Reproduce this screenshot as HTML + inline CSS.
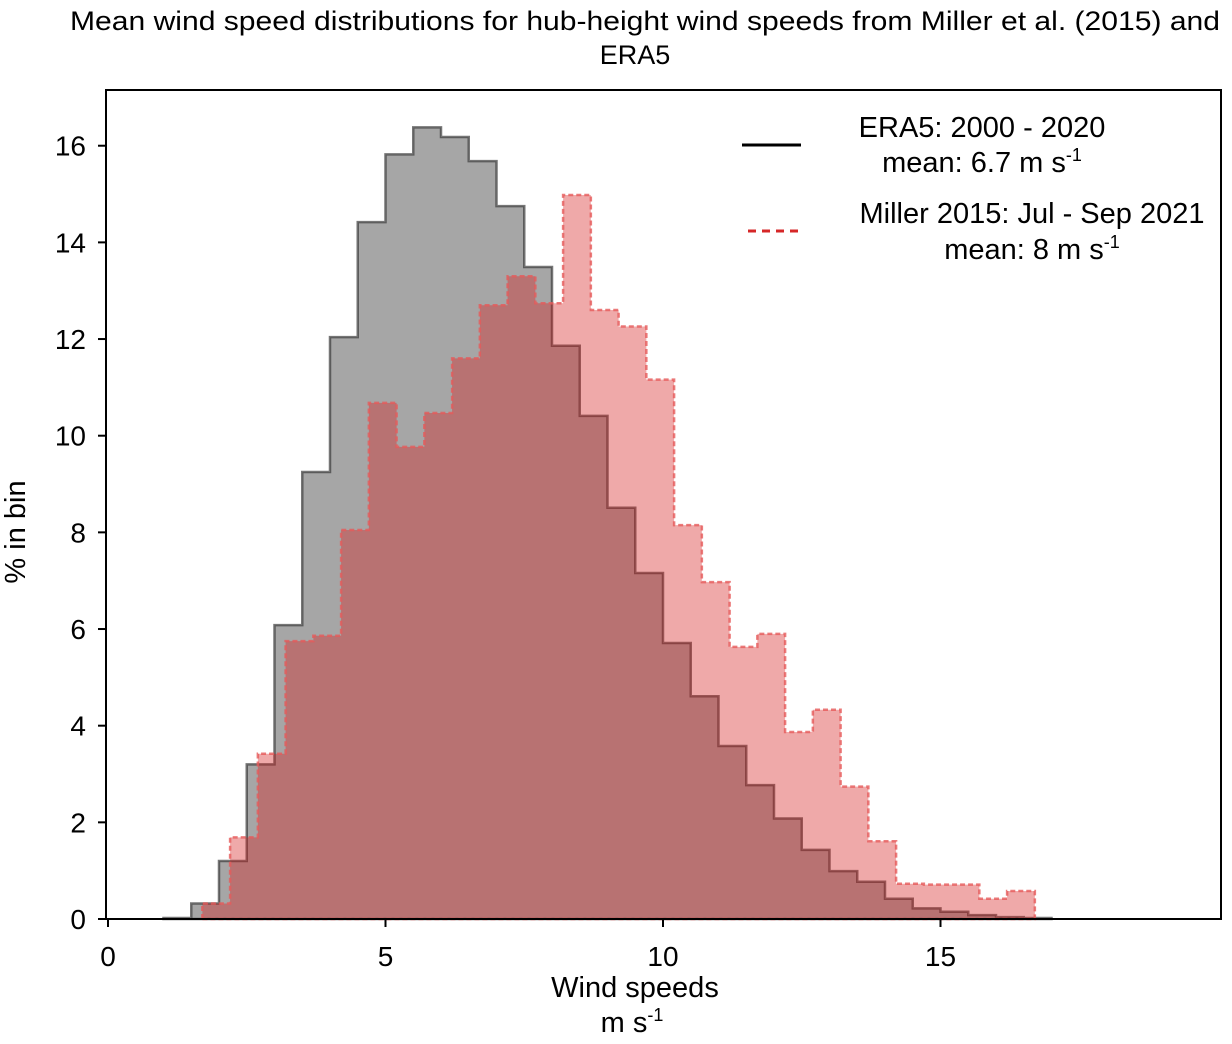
<!DOCTYPE html>
<html><head><meta charset="utf-8"><style>
body{margin:0;background:#fff;}
svg text{font-family:"Liberation Sans",sans-serif;fill:#000;}
</style></head><body>
<svg id="chart" width="1232" height="1039" viewBox="0 0 1232 1039" xmlns="http://www.w3.org/2000/svg">
<text x="70" y="30" font-size="27" textLength="1150" lengthAdjust="spacingAndGlyphs">Mean wind speed distributions for hub-height wind speeds from Miller et al. (2015)  and</text>
<text x="635" y="64" font-size="27" text-anchor="middle">ERA5</text>
<g id="marks"></g>
<rect x="106" y="90" width="1115" height="829" fill="none" stroke="#000" stroke-width="2"/>
<g id="axes"></g>
<text transform="translate(25,532) rotate(-90)" font-size="29" text-anchor="middle">% in bin</text>
<text x="635" y="997" font-size="29" text-anchor="middle">Wind speeds</text>
<text x="632" y="1032" font-size="29" text-anchor="middle">m s<tspan font-size="18" dy="-11">-1</tspan></text>
<g>
<line x1="742" y1="145" x2="801" y2="145" stroke="#000" stroke-width="3"/>
<text x="982" y="137" font-size="29" text-anchor="middle">ERA5: 2000 - 2020</text>
<text x="982" y="172" font-size="29" text-anchor="middle">mean: 6.7 m s<tspan font-size="18" dy="-11">-1</tspan></text>
<line x1="748" y1="231" x2="804" y2="231" stroke="#d62728" stroke-width="3" stroke-dasharray="8,6"/>
<text x="1032" y="223" font-size="29" text-anchor="middle">Miller 2015: Jul - Sep 2021</text>
<text x="1032" y="259" font-size="29" text-anchor="middle">mean: 8 m s<tspan font-size="18" dy="-11">-1</tspan></text>
</g>
</svg>
<script>
const era5Start = 1.0;
const binWidth = 0.5;
const era5Values = [0.02,0.32,1.2,3.2,6.08,9.25,12.04,14.42,15.82,16.38,16.18,15.68,14.75,13.49,11.86,10.41,8.51,7.16,5.71,4.61,3.58,2.77,2.08,1.43,0.99,0.77,0.42,0.22,0.15,0.08,0.04,0.02];
const millerStart = 1.7;
const millerValues = [0.32,1.69,3.42,5.75,5.86,8.05,10.68,9.77,10.47,11.6,12.7,13.3,12.74,14.98,12.6,12.26,11.16,8.15,6.97,5.63,5.9,3.87,4.33,2.74,1.61,0.73,0.71,0.71,0.42,0.58];
const xTicks = [0,5,10,15];
const yTicks = [0,2,4,6,8,10,12,14,16];

const NS="http://www.w3.org/2000/svg";
function xs(v){return 108+55.5*v;}
function ys(v){return 919-48.33*v;}
function stepPath(start,vals){
  let d="M"+xs(start)+","+ys(0);
  vals.forEach((v,i)=>{
    const x0=xs(start+i*binWidth), x1=xs(start+(i+1)*binWidth);
    d+=" L"+x0+","+ys(v)+" L"+x1+","+ys(v);
  });
  d+=" L"+xs(start+vals.length*binWidth)+","+ys(0);
  return d;
}
const marks=document.getElementById('marks');
const p1=document.createElementNS(NS,'path');
p1.setAttribute('d',stepPath(era5Start,era5Values)+" Z");
p1.setAttribute('fill','rgba(0,0,0,0.35)');
p1.setAttribute('stroke','rgba(60,60,60,0.7)');
p1.setAttribute('stroke-width','2.5');


marks.appendChild(p1);
const p2=document.createElementNS(NS,'path');
p2.setAttribute('d',stepPath(millerStart,millerValues)+" Z");
p2.setAttribute('fill','rgba(214,30,30,0.38)');
p2.setAttribute('stroke','rgba(230,90,90,0.8)');
p2.setAttribute('stroke-width','2.5');
p2.setAttribute('stroke-dasharray','5,3');


marks.appendChild(p2);

const axes=document.getElementById('axes');
xTicks.forEach(t=>{
  const l=document.createElementNS(NS,'line');
  l.setAttribute('x1',xs(t));l.setAttribute('x2',xs(t));
  l.setAttribute('y1',919);l.setAttribute('y2',927);
  l.setAttribute('stroke','#000');l.setAttribute('stroke-width','2');
  
  
  axes.appendChild(l);
  const tx=document.createElementNS(NS,'text');
  tx.setAttribute('x',xs(t));tx.setAttribute('y',966);
  tx.setAttribute('font-size','28');tx.setAttribute('text-anchor','middle');
  tx.textContent=t;
  
  
  axes.appendChild(tx);
});
yTicks.forEach(t=>{
  const l=document.createElementNS(NS,'line');
  l.setAttribute('x1',98);l.setAttribute('x2',106);
  l.setAttribute('y1',ys(t));l.setAttribute('y2',ys(t));
  l.setAttribute('stroke','#000');l.setAttribute('stroke-width','2');
  
  
  axes.appendChild(l);
  const tx=document.createElementNS(NS,'text');
  tx.setAttribute('x',86);tx.setAttribute('y',ys(t)+10);
  tx.setAttribute('font-size','28');tx.setAttribute('text-anchor','end');
  tx.textContent=t;
  
  
  axes.appendChild(tx);
});
</script>
</body></html>
